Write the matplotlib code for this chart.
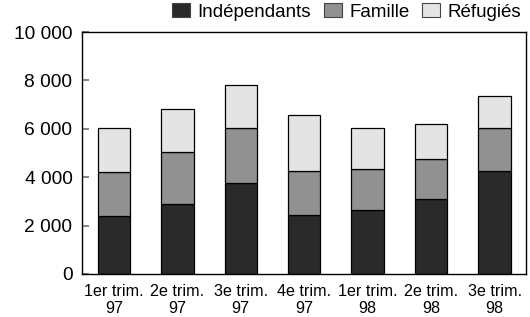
import numpy as np
import matplotlib
matplotlib.use('Agg')
import matplotlib.pyplot as plt
from matplotlib.ticker import FuncFormatter
from matplotlib.patches import Patch

plt.rcParams.update({
    'font.family': ['Liberation Sans', 'DejaVu Sans'],
    'font.size': 13,
})

categories = ['1er trim.\n97', '2e trim.\n97', '3e trim.\n97', '4e trim.\n97',
              '1er trim.\n98', '2e trim.\n98', '3e trim.\n98']
independants = [2380, 2880, 3750, 2450, 2660, 3110, 4240]
famille = [1820, 2170, 2270, 1810, 1670, 1640, 1790]
refugies = [1830, 1770, 1800, 2300, 1690, 1440, 1330]

series = [('Indépendants', independants, '#2a2a2a'),
          ('Famille', famille, '#919191'),
          ('Réfugiés', refugies, '#e4e4e4')]

fig = plt.figure(figsize=(5.3, 3.17), dpi=100)
ax = fig.add_axes([0.155, 0.136, 0.838, 0.763])

x = np.arange(len(categories))
bottom = np.zeros(len(categories))
for name, vals, col in series:
    ax.bar(x, vals, 0.51, bottom=bottom, color=col, edgecolor='black',
           linewidth=0.9, label=name, zorder=2)
    bottom += np.array(vals)

ax.set_xlim(-0.5, len(categories) - 0.5)
ax.set_ylim(0, 10000)
ax.set_yticks(np.arange(0, 10001, 2000))
ax.yaxis.set_major_formatter(FuncFormatter(lambda v, p: f'{int(v):,}'.replace(',', ' ')))
ax.set_xticks(x)
ax.set_xticklabels(categories, fontsize=11.6, linespacing=1.2)
ax.tick_params(axis='y', direction='in', length=5, width=1.2, color='#707070',
               labelsize=13.8, pad=7)
ax.tick_params(axis='x', direction='in', length=3, width=1, color='#707070', pad=7)
for s in ax.spines.values():
    s.set_linewidth(1.0)
    s.set_color('black')

handles = [Patch(facecolor=c, edgecolor='#444444', linewidth=0.8, label=n)
           for n, v, c in series]
fig.legend(handles=handles, loc='upper right', bbox_to_anchor=(1.005, 1.025),
           ncol=3, frameon=False, fontsize=13.5, handlelength=0.95, handleheight=0.75,
           handletextpad=0.4, columnspacing=0.7, borderaxespad=0.2)

fig.savefig('out.png', dpi=100)
